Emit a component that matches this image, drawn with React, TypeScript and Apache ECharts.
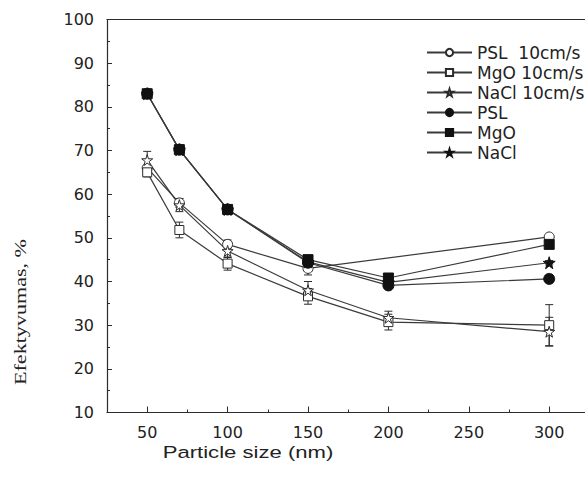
import React, { useEffect, useRef } from "react";
import * as echarts from "echarts";

const xTickValues = [50, 100, 150, 200, 250, 300];
const xMinorTicks = [75, 125, 175, 225, 275];

const pslSlow = [[50, 66], [70, 58], [100, 48.5], [150, 43], [300, 50.2]];
const mgoSlow = [[50, 65], [70, 51.8], [100, 44.1], [150, 36.6], [200, 30.7], [300, 30.0]];
const naclSlow = [[50, 67.8], [70, 57.5], [100, 47], [150, 38], [200, 31.7], [300, 28.5]];
const psl = [[50, 83], [70, 70.2], [100, 56.5], [150, 44.3], [200, 39.1], [300, 40.6]];
const mgo = [[50, 83], [70, 70.2], [100, 56.5], [150, 45], [200, 40.8], [300, 48.5]];
const nacl = [[50, 83], [70, 70.2], [100, 56.5], [150, 44.5], [200, 39.8], [300, 44.3]];

const pslSlowErr = [2, 1, 1, 1.5, 0.5];
const mgoSlowErr = [1, 1.8, 1.5, 1.8, 1.8, 4.7];
const naclSlowErr = [2, 1.5, 1.5, 2, 1.5, 3.3];
const filledErr = [0.5, 0.5, 0.5, 1, 0.5, 0.5];

const names = ["PSL  10cm/s", "MgO 10cm/s", "NaCl 10cm/s", "PSL", "MgO", "NaCl"];

const STAR = "path://M50,0 L61,35 L98,35 L68,57 L79,91 L50,70 L21,91 L32,57 L2,35 L39,35 Z";
const INK = "#2b2b2b";

function errData(vals: number[][], errs: number[]) {
  return vals.map((p, i) => [p[0], p[1] - errs[i], p[1] + errs[i]]);
}

export default function App() {
  const ref = useRef<HTMLDivElement>(null);
  useEffect(() => {
    if (!ref.current) return;
    const chart = echarts.init(ref.current, null, { renderer: "svg" });

    const lineSeries = (name: string, data: number[][], symbol: string, size: number, filled: boolean) => ({
      name,
      type: "line",
      xAxisIndex: 0,
      yAxisIndex: 0,
      data,
      symbol,
      symbolSize: size,
      showAllSymbol: true,
      z: 3,
      lineStyle: { color: "#3a3a3a", width: 1.2 },
      itemStyle: filled
        ? { color: "#111", borderColor: "#111", borderWidth: 1 }
        : { color: "#fff", borderColor: INK, borderWidth: 1 },
    });

    const errSeries = (data: number[][]) => ({
      type: "custom",
      xAxisIndex: 0,
      yAxisIndex: 0,
      data,
      z: 2,
      silent: true,
      encode: { x: 0, y: [1, 2] },
      renderItem: (_params: any, api: any) => {
        const x = api.value(0);
        const lo = api.coord([x, api.value(1)]);
        const hi = api.coord([x, api.value(2)]);
        const w = 4;
        const st = { stroke: INK, lineWidth: 1 };
        return {
          type: "group",
          children: [
            { type: "line", shape: { x1: lo[0], y1: lo[1], x2: hi[0], y2: hi[1] }, style: st },
            { type: "line", shape: { x1: lo[0] - w, y1: lo[1], x2: lo[0] + w, y2: lo[1] }, style: st },
            { type: "line", shape: { x1: hi[0] - w, y1: hi[1], x2: hi[0] + w, y2: hi[1] }, style: st },
          ],
        };
      },
    });

    const axisFont = { fontFamily: "DejaVu Sans", fontSize: 16, color: "#222" };

    chart.setOption({
      animation: false,
      backgroundColor: "#fff",
      grid: { left: 107, top: 19.5, right: -4.4, bottom: 66.5, containLabel: false, outerBoundsMode: "none" },
      xAxis: [
        {
          type: "value",
          min: 25,
          max: 325,
          interval: 25,
          position: "bottom",
          axisLine: { show: true, lineStyle: { color: INK, width: 1.2 } },
          axisTick: { show: true, inside: true, length: 6, customValues: xTickValues, lineStyle: { color: INK } },
          axisLabel: { ...axisFont, margin: 12, customValues: xTickValues },
          splitLine: { show: false },
        },
        {
          type: "value",
          min: 25,
          max: 325,
          position: "top",
          axisLine: { show: true, onZero: false, lineStyle: { color: INK, width: 1.2 } },
          axisTick: { show: false },
          axisLabel: { show: false },
          splitLine: { show: false },
        },
        {
          type: "value",
          min: 25,
          max: 325,
          position: "bottom",
          axisLine: { show: false, onZero: false },
          axisTick: { show: true, inside: true, length: 3, customValues: xMinorTicks, lineStyle: { color: INK } },
          axisLabel: { show: false },
          splitLine: { show: false },
        },
      ],
      yAxis: {
        type: "value",
        min: 10,
        max: 100,
        interval: 10,
        axisLine: { show: true, onZero: false, lineStyle: { color: INK, width: 1.2 } },
        axisTick: { show: true, inside: true, length: 5, lineStyle: { color: INK } },
        minorTick: { show: true, splitNumber: 2, length: 3, lineStyle: { color: INK } },
        axisLabel: { ...axisFont, margin: 13 },
        splitLine: { show: false },
      },
      legend: {
        data: names,
        orient: "vertical",
        left: 421,
        top: 39,
        itemWidth: 45,
        itemHeight: 9,
        itemGap: 3,
        selectedMode: false,
        textStyle: { fontFamily: "DejaVu Sans", fontSize: 17, color: "#222", lineHeight: 16 },
      },
      graphic: [
        {
          type: "text",
          x: 20,
          y: 312,
          rotation: Math.PI / 2,
          scaleX: 1.3,
          style: {
            text: "Efektyvumas, %",
            fontFamily: "Liberation Serif",
            fontSize: 17,
            fill: "#222",
            textAlign: "center",
            textVerticalAlign: "middle",
          },
        },
        {
          type: "text",
          x: 248,
          y: 452,
          scaleX: 1.3,
          style: {
            text: "Particle size (nm)",
            fontFamily: "Liberation Sans",
            fontSize: 17,
            fill: "#222",
            textAlign: "center",
            textVerticalAlign: "middle",
          },
        },
      ],
      series: [
        errSeries(errData(pslSlow, pslSlowErr)),
        errSeries(errData(mgoSlow, mgoSlowErr)),
        errSeries(errData(naclSlow, naclSlowErr)),
        errSeries(errData(psl, filledErr)),
        errSeries(errData(mgo, filledErr)),
        errSeries(errData(nacl, filledErr)),
        lineSeries(names[0], pslSlow, "circle", 10, false),
        lineSeries(names[1], mgoSlow, "rect", 9, false),
        lineSeries(names[2], naclSlow, STAR, 11, false),
        lineSeries(names[3], psl, "circle", 11, true),
        lineSeries(names[4], mgo, "rect", 10, true),
        lineSeries(names[5], nacl, STAR, 12, true),
      ],
    });
    return () => chart.dispose();
  }, []);
  return (
    <div
      ref={ref}
      style={{ position: "absolute", left: 0, top: 0, width: 585, height: 479, background: "#fff" }}
    />
  );
}
